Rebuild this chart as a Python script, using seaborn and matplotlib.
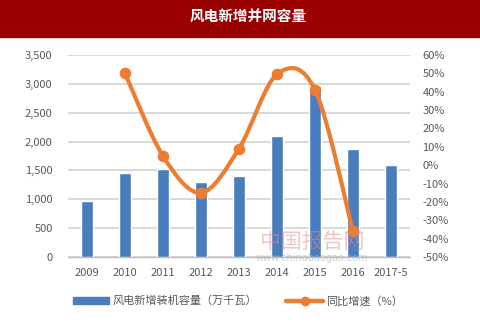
import numpy as np
import pandas as pd
import matplotlib
matplotlib.use("Agg")
import matplotlib.pyplot as plt
from matplotlib.path import Path
from matplotlib.patches import PathPatch, Patch, Rectangle
from matplotlib.lines import Line2D
import matplotlib.ticker as mticker
import seaborn as sns

# Data
periods = ["2009", "2010", "2011", "2012", "2013", "2014", "2015", "2016", "2017-5"]
capacity = [975, 1460, 1530, 1300, 1405, 2100, 2960, 1875, 1600]   # 万千瓦
growth = [np.nan, 50, 5, -15, 9, 49.5, 41, -36, np.nan]            # %

title = "风电新增并网容量"
bar_label = "风电新增装机容量（万千瓦）"
line_label = "同比增速（%）"

BLUE = "#4a7dbd"
ORANGE = "#ed7d31"
GRID = "#d9d9d9"
TXT = "#595959"

sns.set_theme(style="white")
plt.rcParams["font.family"] = ["Noto Sans CJK SC", "DejaVu Sans"]

W, H = 480, 328
fig = plt.figure(figsize=(W / 100, H / 100), dpi=100)

# Title banner
fig.patches.append(Rectangle((0, 1 - 37 / H), 1, 37 / H, transform=fig.transFigure,
                             color="#990000", zorder=0))
fig.text(248 / W, 1 - 17 / H, title, color="white", fontsize=10.5, fontweight="bold",
         ha="center", va="center")

ax = fig.add_axes([68 / W, 1 - 257 / H, (410 - 68) / W, (257 - 55) / H])
df = pd.DataFrame({"period": periods, "capacity": capacity})
sns.barplot(data=df, x="period", y="capacity", color=BLUE, width=0.32,
            saturation=1, ax=ax, zorder=3)
ax.set_ylim(0, 3500)
ax.set_xlim(-0.5, len(periods) - 0.5)
ax.yaxis.set_major_locator(mticker.MultipleLocator(500))
ax.yaxis.set_major_formatter(mticker.FuncFormatter(lambda v, p: f"{int(v):,}"))
ax.grid(axis="y", color=GRID, linewidth=1.4, zorder=0)
ax.set_axisbelow(True)
ax.set_xlabel("")
ax.set_ylabel("")
for s in ["top", "left", "right"]:
    ax.spines[s].set_visible(False)
ax.spines["bottom"].set_color("#bfbfbf")
ax.spines["bottom"].set_linewidth(1)
ax.tick_params(axis="y", length=0, pad=11, labelsize=8, labelcolor=TXT)
ax.tick_params(axis="x", length=0, pad=8, labelsize=8, labelcolor=TXT)
# boundary ticks between categories
ax.set_xticks(np.arange(-0.5, len(periods) + 0.5, 1), minor=True)
ax.tick_params(axis="x", which="minor", length=4, color="#bfbfbf", width=1)

# Growth rate on secondary axis
ax2 = ax.twinx()
ax2.set_ylim(-50, 60)
ax2.yaxis.set_major_locator(mticker.MultipleLocator(10))
ax2.yaxis.set_major_formatter(mticker.FuncFormatter(lambda v, p: f"{int(round(v))}%"))
ax2.tick_params(axis="y", length=0, pad=9, labelsize=8, labelcolor=TXT)
ax2.grid(False)
for s in ax2.spines.values():
    s.set_visible(False)

xs = np.arange(len(periods), dtype=float)
g = np.array(growth, dtype=float)
mask = ~np.isnan(g)
px, py = xs[mask], g[mask]

# Smoothed line through the points (cubic Bezier, Catmull-Rom style)
verts = [(px[0], py[0])]
codes = [Path.MOVETO]
n = len(px)
for i in range(n - 1):
    p0 = np.array([px[max(i - 1, 0)], py[max(i - 1, 0)]])
    p1 = np.array([px[i], py[i]])
    p2 = np.array([px[i + 1], py[i + 1]])
    p3 = np.array([px[min(i + 2, n - 1)], py[min(i + 2, n - 1)]])
    c1 = p1 + (p2 - p0) / 6
    c2 = p2 - (p3 - p1) / 6
    verts += [tuple(c1), tuple(c2), tuple(p2)]
    codes += [Path.CURVE4] * 3
ax2.add_patch(PathPatch(Path(verts, codes), facecolor="none", edgecolor=ORANGE,
                        linewidth=3.0, capstyle="round", zorder=4))
sns.scatterplot(x=px, y=py, color=ORANGE, s=70, edgecolor=ORANGE, linewidth=0,
                ax=ax2, zorder=5)

# Watermark
fig.text(312 / W, 1 - 242 / H, "中国报告网", color="#e08a8a", alpha=0.5,
         fontsize=15, ha="center", va="center", zorder=10)
fig.text(312 / W, 1 - 258 / H, "www.chinabaogao.com", color="#b0b0b0", alpha=0.6,
         fontsize=7, ha="center", va="center", family="DejaVu Sans", zorder=10)

# Legend
handles = [Patch(facecolor=BLUE, edgecolor=BLUE),
           Line2D([0], [0], color=ORANGE, linewidth=3.2, marker="o", markersize=6)]
fig.legend(handles, [bar_label, line_label], loc="center", ncol=2,
           bbox_to_anchor=(238 / W, 1 - 301 / H), frameon=False, fontsize=8,
           labelcolor=TXT, handlelength=3.3, handleheight=0.55, handletextpad=0.3,
           columnspacing=2.6)

fig.savefig("out.png", dpi=100, facecolor="white")
